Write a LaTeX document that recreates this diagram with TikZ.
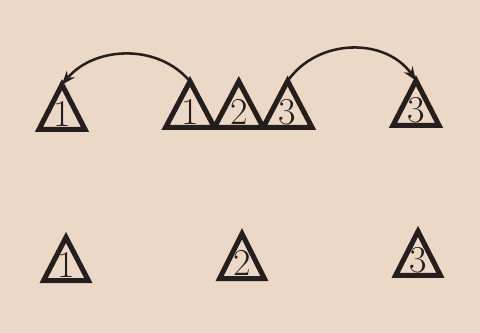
\documentclass[tikz,border=0pt]{standalone}
\usetikzlibrary{arrows.meta}

\definecolor{paper}{RGB}{236,216,199}
\definecolor{ink}{RGB}{36,30,28}

\begin{document}
\begin{tikzpicture}[
  tri/.style={draw=ink,line width=3.6pt,line join=miter},
  num/.style={text=ink,anchor=base,inner sep=0pt,font=\fontsize{27}{27}\selectfont},
  hop/.style={draw=ink,line width=1.8pt,-{Stealth[length=3.4mm,width=2.6mm]}}]
\fill[paper] (0,0) rectangle (12,8.325);
\useasboundingbox (0,0) rectangle (12,8.325);
% name / x / base y / width / height / digit
\foreach \n/\x/\y/\w/\h/\d in {ta/1.55/5.09/1.15/1.12/1,
    ma/4.75/5.14/1.22/1.15/1, mb/5.97/5.14/1.22/1.15/2, mc/7.19/5.14/1.22/1.16/3,
    tb/10.4/5.19/1.15/1.12/3,
    ba/1.65/1.31/1.12/1.08/1, bb/6.05/1.36/1.12/1.12/2, bc/10.45/1.44/1.12/1.1/3}
{
  \draw[tri] (\x-\w/2,\y) -- (\x+\w/2,\y) -- (\x,\y+\h) -- cycle;
  \coordinate (\n) at (\x,\y+\h);
  \node[num] (\n-d) at (\x,\y+0.08) {\d};
}
% moves
\draw[hop] (ma) to[out=130,in=50,looseness=1.0] (ta);
\draw[hop] (mc) to[out=55,in=125,looseness=1.05] (tb);
\end{tikzpicture}
\end{document}
